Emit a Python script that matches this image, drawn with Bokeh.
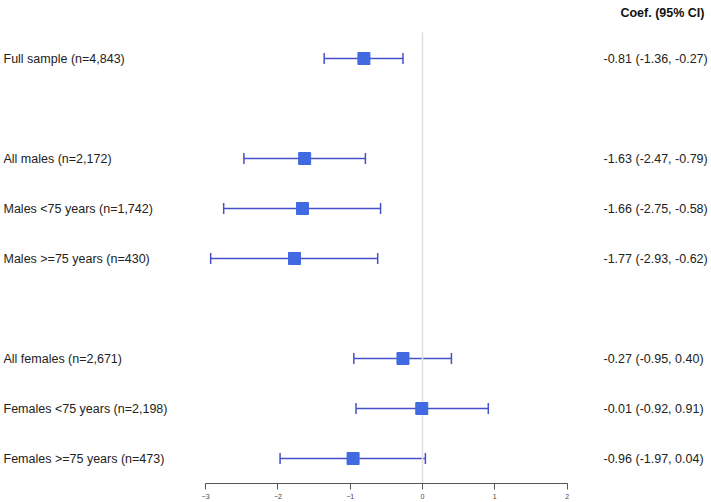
from bokeh.plotting import figure
from bokeh.models import Range1d, FixedTicker, ColumnDataSource, Whisker
from bokeh.core.properties import value
from bokeh.embed import file_html
from bokeh.resources import INLINE

labels = ["Full sample (n=4,843)", "All males (n=2,172)", "Males <75 years (n=1,742)",
          "Males >=75 years (n=430)", "All females (n=2,671)", "Females <75 years (n=2,198)",
          "Females >=75 years (n=473)"]
coef = [-0.81, -1.63, -1.66, -1.77, -0.27, -0.01, -0.96]
lower = [-1.36, -2.47, -2.75, -2.93, -0.95, -0.92, -1.97]
upper = [-0.27, -0.79, -0.58, -0.62, 0.40, 0.91, 0.04]
rows = [0, 2, 3, 4, 6, 7, 8]
ticks = [-3, -2, -1, 0, 1, 2]
header = "Coef. (95% CI)"

ci_text = ["%.2f (%.2f, %.2f)" % (c, l, u) for c, l, u in zip(coef, lower, upper)]

W, H = 711, 502
scale = 72.3
zero_px = 422.0  # frame px of x=0
x0 = -zero_px / scale
x1 = (W - zero_px) / scale
y_bottom = 8.5
y_top = -58.0 / 50.0

p = figure(width=W, height=H, output_backend="svg", toolbar_location=None,
           x_range=Range1d(x0, x1), y_range=Range1d(y_bottom, y_top),
           y_axis_location=None, min_border_left=0, min_border_right=0,
           min_border_top=0, min_border_bottom=19)
p.outline_line_color = None
p.xgrid.visible = False
p.ygrid.visible = False
p.background_fill_color = "white"

src = ColumnDataSource(dict(label=labels, coef=coef, lower=lower, upper=upper,
                            row=rows, ci=ci_text))

# reference line at 0
p.segment(x0=[0], y0=[rows[0] - 0.52], x1=[0], y1=[y_bottom], line_color="#dedede", line_width=1.5)

w = Whisker(source=src, base="row", lower="lower", upper="upper", dimension="width",
            line_color="#4650c8", line_width=1.5)
for head in (w.upper_head, w.lower_head):
    head.size = 11
    head.line_color = "#4650c8"
    head.line_width = 1.5
p.add_layout(w)

p.scatter(x="coef", y="row", source=src, marker="square", size=12,
          fill_color="#4169E1", line_color="#4169E1")

font = value("Liberation Sans")
p.text(x=x0, y="row", text="label", source=src, text_font=font,
       text_font_size="12.5px", text_align="left", text_baseline="middle",
       text_color="#222222", x_offset=3)
p.text(x=(603 - zero_px) / scale, y="row", text="ci", source=src, text_font=font,
       text_font_size="12.5px", text_align="left", text_baseline="middle",
       text_color="#222222")
p.text(x=[(704 - zero_px) / scale], y=[-0.92], text=[header], text_font=font,
       text_font_size="12.5px", text_font_style="bold", text_align="right",
       text_baseline="middle", text_color="#111111")

ax = p.xaxis[0]
ax.bounds = (ticks[0], ticks[-1])
ax.ticker = FixedTicker(ticks=ticks)
ax.minor_tick_line_color = None
ax.axis_line_color = "#555555"
ax.major_tick_line_color = "#555555"
ax.major_tick_in = 0
ax.major_tick_out = 6
ax.major_label_standoff = 4
ax.major_label_text_font_size = "7px"
ax.major_label_text_font = "Liberation Sans"
ax.major_label_text_color = "#444444"

open("out.html", "w").write(file_html(p, INLINE))
